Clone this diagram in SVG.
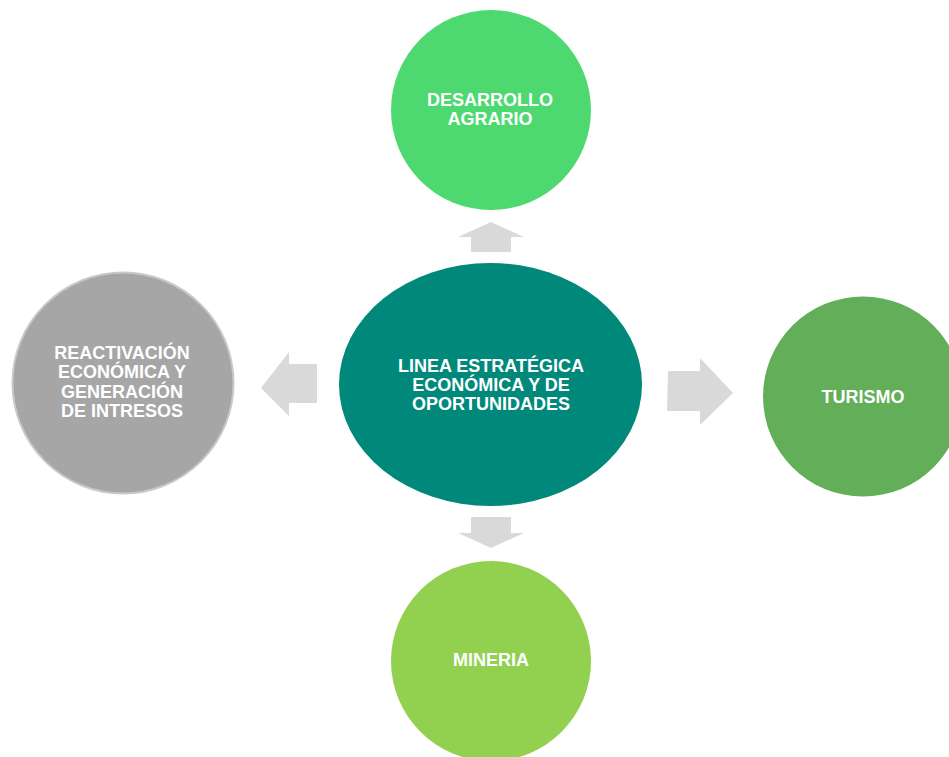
<svg xmlns="http://www.w3.org/2000/svg" width="949" height="757" viewBox="0 0 949 757">
<style>
.lbl{font-family:"Liberation Sans",Arial,sans-serif;font-weight:bold;font-size:18px;fill:#ffffff;text-anchor:middle}
.arr{fill:#d9d9d9}
</style>
<rect width="949" height="757" fill="#ffffff"/>
<g id="connectors">
<polygon class="arr" points="491,222 524,237 511,237 511,252 471,252 471,237 458,237"/>
<polygon class="arr" points="491,548 524,533 511,533 511,517 471,517 471,533 458,533"/>
<polygon class="arr" points="261,388 289,352 289,364 317,364 317,403 289,403 289,416"/>
<polygon class="arr" points="733,393 700,358 700,371 668,371 667,411 700,411 700,425"/>
</g>
<g id="node-center">
<ellipse cx="490.5" cy="384.5" rx="151.5" ry="121.5" fill="#00897a"/>
<text class="lbl" x="491" y="372">LINEA ESTRATÉGICA</text>
<text class="lbl" x="491" y="391">ECONÓMICA Y DE</text>
<text class="lbl" x="491" y="410">OPORTUNIDADES</text>
</g>
<g id="node-agrario">
<circle cx="491" cy="110" r="100" fill="#4dd970"/>
<text class="lbl" x="490" y="105.5">DESARROLLO</text>
<text class="lbl" x="490" y="124.5">AGRARIO</text>
</g>
<g id="node-reactivacion">
<circle cx="123" cy="383" r="110.5" fill="#a6a6a6" stroke="#c9c9c9" stroke-width="2"/>
<text class="lbl" x="122" y="359">REACTIVACIÓN</text>
<text class="lbl" x="122" y="378">ECONÓMICA Y</text>
<text class="lbl" x="122" y="397.5">GENERACIÓN</text>
<text class="lbl" x="122" y="416.5">DE INTRESOS</text>
</g>
<g id="node-turismo">
<circle cx="863" cy="396.5" r="100" fill="#63ae59"/>
<text class="lbl" x="863" y="403">TURISMO</text>
</g>
<g id="node-mineria">
<circle cx="491" cy="661" r="100" fill="#92d050"/>
<text class="lbl" x="491" y="666">MINERIA</text>
</g>
</svg>
